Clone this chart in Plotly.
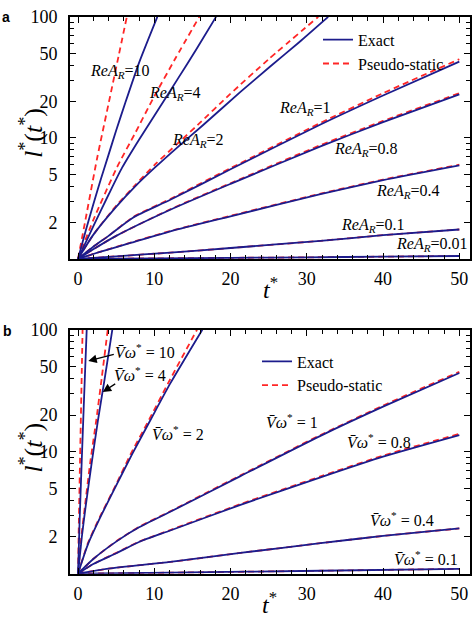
import math
import plotly.graph_objects as go

# ---------------- data ----------------
# Panel a : parameter ReA_R
a_params = ["10", "4", "2", "1", "0.8", "0.4", "0.1", "0.01"]

a_t_exact_10 = [0, 1, 2, 3, 4, 5, 6.2, 8, 10.4]
a_l_exact_10 = [1, 1.70, 2.82, 4.57, 7.24, 11.5, 19.5, 41.7, 100]
a_t_pseudo_10 = [0, 1, 2.5, 4.2, 5.3, 6.4]
a_l_pseudo_10 = [1, 2.14, 6.76, 21.9, 46.8, 100]

a_t_exact_4 = [0, 2, 4, 5.8, 8, 11.2, 13.1, 15.5, 18.1]
a_l_exact_4 = [1, 1.86, 3.39, 5.70, 9.66, 19.95, 30.9, 53.7, 100]
a_t_pseudo_4 = [0, 2, 5.1, 7.5, 9.8, 12.8, 15.9]
a_l_pseudo_4 = [1, 2.09, 5.70, 10.96, 20.9, 45.7, 100]

a_t_exact_2 = [0, 2, 5, 7.5, 10.1, 13, 16.3, 21.3, 25.2, 29, 32.8]
a_l_exact_2 = [1, 1.58, 2.69, 3.98, 5.70, 8.32, 12.6, 24.0, 38.9, 61.7, 100]
a_t_pseudo_2 = [0, 2, 5, 7.5, 10.1, 13, 15.7, 19.9, 25, 31.5]
a_l_pseudo_2 = [1, 1.58, 2.75, 4.07, 6.03, 8.91, 12.8, 22.9, 44.7, 100]

a_t_1 = [0, 2, 4, 7.2, 12.1, 20, 31.8, 40, 50]
a_l_exact_1 = [1, 1.26, 1.55, 2.19, 3.08, 5.50, 12.9, 22.4, 42.7]
a_l_pseudo_1 = [1, 1.26, 1.55, 2.21, 3.13, 5.62, 13.3, 23.4, 44.7]

a_t_08 = [0, 2, 5, 12.1, 20, 31.8, 40, 50]
a_l_exact_08 = [1, 1.20, 1.55, 2.55, 4.17, 8.51, 13.5, 22.9]
a_l_pseudo_08 = [1, 1.20, 1.55, 2.57, 4.22, 8.71, 13.8, 23.4]

a_t_04 = [0, 3, 7, 12.1, 20, 31.8, 40, 50]
a_l_exact_04 = [1, 1.15, 1.36, 1.69, 2.25, 3.43, 4.47, 5.92]
a_l_pseudo_04 = [1, 1.15, 1.37, 1.70, 2.27, 3.46, 4.52, 6.00]

a_t_01 = [0, 5, 12.1, 20, 31.8, 40, 50]
a_l_exact_01 = [1, 1.05, 1.127, 1.23, 1.41, 1.57, 1.75]
a_l_pseudo_01 = [1, 1.05, 1.127, 1.23, 1.41, 1.57, 1.75]

a_t_001 = [0, 10, 20, 30, 40, 50]
a_l_exact_001 = [1, 1.01, 1.02, 1.03, 1.043, 1.057]
a_l_pseudo_001 = [1, 1.01, 1.02, 1.03, 1.043, 1.057]

# Panel b : parameter V-bar omega*
b_params = ["10", "4", "2", "1", "0.8", "0.4", "0.1"]

b_t_exact_10 = [0, 0.22, 0.48, 0.8, 1.14]
b_t_pseudo_10 = [0, 0.12, 0.26, 0.43, 0.6]
b_l_10 = [1, 2.82, 8.13, 28.2, 100]

b_t_exact_4 = [0, 0.5, 1, 1.8, 2.6, 3.5, 4.5]
b_l_exact_4 = [1, 2.0, 3.55, 8.13, 17.8, 39.8, 100]
b_t_pseudo_4 = [0, 0.4, 0.9, 1.6, 2.4, 3.1, 3.9]
b_l_pseudo_4 = [1, 1.91, 3.55, 8.13, 18.2, 39.8, 100]

b_t_exact_2 = [0, 1.3, 2.9, 4.9, 7.1, 9.5, 12.1, 16.3]
b_l_exact_2 = [1, 1.74, 2.88, 5.13, 9.55, 18.2, 36.3, 100]
b_t_pseudo_2 = [0, 1.3, 2.9, 4.9, 6.9, 9.3, 11.8, 15.6]
b_l_pseudo_2 = [1, 1.78, 2.95, 5.25, 9.55, 18.2, 36.3, 100]

b_t_1 = [0, 2, 5.1, 8, 12.1, 21.3, 31.8, 40, 50]
b_l_exact_1 = [1, 1.32, 1.85, 2.40, 3.22, 6.31, 13.5, 23.4, 44.2]
b_l_pseudo_1 = [1, 1.32, 1.86, 2.42, 3.25, 6.40, 13.7, 23.9, 45.2]

b_t_08 = [0, 2, 5.1, 8, 12.1, 21.3, 31.8, 40, 50]
b_l_exact_08 = [1, 1.20, 1.48, 1.82, 2.26, 3.67, 6.17, 9.12, 13.7]
b_l_pseudo_08 = [1, 1.20, 1.49, 1.83, 2.28, 3.72, 6.27, 9.29, 14.0]

b_t_04 = [0, 4, 12.1, 21.3, 31.8, 40, 50]
b_l_exact_04 = [1, 1.10, 1.25, 1.48, 1.78, 2.04, 2.35]
b_l_pseudo_04 = [1, 1.10, 1.25, 1.48, 1.78, 2.04, 2.35]

b_t_01 = [0, 12.1, 31.8, 50]
b_l_exact_01 = [1, 1.02, 1.057, 1.096]
b_l_pseudo_01 = [1, 1.02, 1.057, 1.096]

x_ticks = [0, 10, 20, 30, 40, 50]
y_ticks = [2, 5, 10, 20, 50, 100]
y_minor = [3, 4, 6, 7, 8, 9, 30, 40, 60, 70, 80, 90]

# ---------------- figure ----------------
W, H = 472, 617
BLUE = "#1c1c8c"
RED = "#ff2626"
SERIF = "Liberation Serif"

fig = go.Figure()

a_curves = [
    (a_t_exact_10, a_l_exact_10, a_t_pseudo_10, a_l_pseudo_10),
    (a_t_exact_4, a_l_exact_4, a_t_pseudo_4, a_l_pseudo_4),
    (a_t_exact_2, a_l_exact_2, a_t_pseudo_2, a_l_pseudo_2),
    (a_t_1, a_l_exact_1, a_t_1, a_l_pseudo_1),
    (a_t_08, a_l_exact_08, a_t_08, a_l_pseudo_08),
    (a_t_04, a_l_exact_04, a_t_04, a_l_pseudo_04),
    (a_t_01, a_l_exact_01, a_t_01, a_l_pseudo_01),
    (a_t_001, a_l_exact_001, a_t_001, a_l_pseudo_001),
]
b_curves = [
    (b_t_exact_10, b_l_10, b_t_pseudo_10, b_l_10),
    (b_t_exact_4, b_l_exact_4, b_t_pseudo_4, b_l_pseudo_4),
    (b_t_exact_2, b_l_exact_2, b_t_pseudo_2, b_l_pseudo_2),
    (b_t_1, b_l_exact_1, b_t_1, b_l_pseudo_1),
    (b_t_08, b_l_exact_08, b_t_08, b_l_pseudo_08),
    (b_t_04, b_l_exact_04, b_t_04, b_l_pseudo_04),
    (b_t_01, b_l_exact_01, b_t_01, b_l_pseudo_01),
]


def add_panel(curves, xa, ya, legend):
    for i, (te, le, tp, lp) in enumerate(curves):
        fig.add_trace(go.Scatter(
            x=tp, y=lp, mode="lines", xaxis=xa, yaxis=ya,
            line=dict(color=RED, width=1.8, dash="6px,4px", shape="spline", smoothing=0.6),
            name="Pseudo-static", legend=legend, legendrank=2,
            showlegend=(i == 0), hoverinfo="skip"))
    for i, (te, le, tp, lp) in enumerate(curves):
        fig.add_trace(go.Scatter(
            x=te, y=le, mode="lines", xaxis=xa, yaxis=ya,
            line=dict(color=BLUE, width=1.8, shape="spline", smoothing=0.6),
            name="Exact", legend=legend, legendrank=1,
            showlegend=(i == 0), hoverinfo="skip"))


add_panel(a_curves, "x", "y", "legend")
add_panel(b_curves, "x2", "y2", "legend2")

xdom = [70 / W, 470 / W]
ya_dom = [1 - 253 / H, 1 - 7 / H]
yb_dom = [1 - 573 / H, 1 - 325 / H]

tickfont = dict(family=SERIF, size=18, color="black")
xcommon = dict(
    domain=xdom, range=[-1.05, 51.4], tickmode="array", tickvals=x_ticks,
    ticks="inside", ticklen=6, tickwidth=1.2, tickcolor="black",
    minor=dict(dtick=2, tick0=0, ticks="inside", ticklen=4, tickwidth=1, tickcolor="black"),
    showline=True, linecolor="black", linewidth=1.6, mirror="allticks",
    showgrid=False, zeroline=False, tickfont=tickfont, ticklabelstandoff=3,
)
ycommon = dict(
    type="log", range=[0, 2], tickmode="array", tickvals=y_ticks,
    ticktext=[str(v) for v in y_ticks],
    ticks="inside", ticklen=6, tickwidth=1.2, tickcolor="black",
    minor=dict(tickmode="array", tickvals=y_minor, ticks="inside", ticklen=4, tickwidth=1, tickcolor="black"),
    showline=True, linecolor="black", linewidth=1.6, mirror="allticks",
    showgrid=False, zeroline=False, tickfont=tickfont, ticklabelstandoff=7,
)

fig.update_layout(
    width=W, height=H, margin=dict(l=0, r=0, t=0, b=0),
    paper_bgcolor="white", plot_bgcolor="white",
    font=dict(family=SERIF, color="black"),
    xaxis=dict(anchor="y", **xcommon),
    yaxis=dict(anchor="x", domain=ya_dom, **ycommon),
    xaxis2=dict(anchor="y2", **xcommon),
    yaxis2=dict(anchor="x2", domain=yb_dom, **ycommon),
    legend=dict(x=318 / W, y=1 - 13 / H, xanchor="left", yanchor="top",
                bgcolor="rgba(0,0,0,0)", font=dict(family=SERIF, size=16, color="black"),
                tracegroupgap=0, itemwidth=30),
    legend2=dict(x=257 / W, y=1 - 340 / H, xanchor="left", yanchor="top",
                 bgcolor="rgba(0,0,0,0)", font=dict(family=SERIF, size=16, color="black"),
                 tracegroupgap=0, itemwidth=30),
    showlegend=True,
)


def ptext(px, py, text, size=16, **kw):
    fig.add_annotation(x=px / W, y=1 - py / H, xref="paper", yref="paper",
                       text=text, showarrow=False, xanchor="center", yanchor="middle",
                       font=dict(family=SERIF, size=size, color="black"), **kw)


# curve labels, panel a
a_label_pos = [(120, 63), (175, 85), (198, 133), (305, 100), (366, 142), (408, 184), (373, 219), (432, 238)]
for p, (px, py) in zip(a_params, a_label_pos):
    ptext(px, py, "<i>ReA</i><sub><i>R</i></sub>=" + p)

# curve labels, panel b
b_label_pos = [(145, 347), (140, 370), (178, 430), (292, 418), (379, 438), (402, 517), (426, 557)]
for p, (px, py) in zip(b_params, b_label_pos):
    ptext(px, py, "<i>V\u0304\u03c9</i><sup>*</sup> = " + p)

# arrows in panel b
for (tt, ll, ax, ay) in [(1.35, 55.5, 27, -7), (3.24, 30.9, 14, -9)]:
    fig.add_annotation(x=tt, y=math.log10(ll), xref="x2", yref="y2", text="",
                       showarrow=True, ax=ax, ay=ay, axref="pixel", ayref="pixel",
                       arrowhead=2, arrowsize=1.3, arrowwidth=1.3, arrowcolor="black")

# axis titles
for cy in (125, 445):
    ptext(32, cy, "<i>l</i><sup>*</sup>(<i>t</i><sup>*</sup>)", size=26, textangle=-90)
ptext(270, 283, "<i>t</i><sup>*</sup>", size=24)
ptext(269, 603, "<i>t</i><sup>*</sup>", size=24)

# panel letters
fig.add_annotation(x=6 / W, y=1 - 7 / H, xref="paper", yref="paper", text="<b>a</b>",
                   showarrow=False, xanchor="center", yanchor="middle",
                   font=dict(family="Liberation Sans", size=14, color="black"))
fig.add_annotation(x=7 / W, y=1 - 326 / H, xref="paper", yref="paper", text="<b>b</b>",
                   showarrow=False, xanchor="center", yanchor="middle",
                   font=dict(family="Liberation Sans", size=14, color="black"))

fig.write_html("out.html", config={"displayModeBar": False},
               post_script="document.body.style.margin='0';")
